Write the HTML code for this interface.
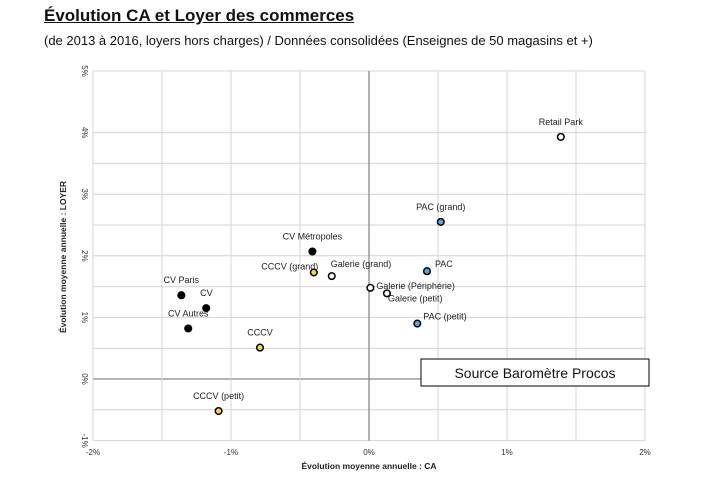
<!DOCTYPE html>
<html><head><meta charset="utf-8"><style>
body{margin:0;background:#fff;width:707px;height:488px;overflow:hidden;font-family:"Liberation Sans",sans-serif}
#title{position:absolute;left:44px;top:6px;font-size:17px;font-weight:bold;text-decoration:underline;color:#111}
#sub{position:absolute;left:44px;top:33px;font-size:13px;color:#111}
svg{position:absolute;left:0;top:0}
</style></head><body>
<div id="title">Évolution CA et Loyer des commerces</div>
<div id="sub">(de 2013 à 2016, loyers hors charges) / Données consolidées (Enseignes de 50 magasins et +)</div>
<svg id="c" width="707" height="488"></svg>
<script>
const names=["CV Métropoles","CCCV (grand)","Galerie (grand)","CV Paris","CV","CV Autres","CCCV","CCCV (petit)","Galerie (Périphérie)","Galerie (petit)","Retail Park","PAC (grand)","PAC","PAC (petit)"];
const caValues=[-0.41,-0.40,-0.27,-1.36,-1.18,-1.31,-0.79,-1.09,0.01,0.13,1.39,0.52,0.42,0.35];
const loyerValues=[2.07,1.73,1.67,1.36,1.15,0.82,0.51,-0.52,1.48,1.39,3.93,2.55,1.75,0.90];
const groups=["cv","cccv","galerie","cv","cv","cv","cccv","cccv","galerie","galerie","galerie","pac","pac","pac"];
const xTicks=[-2,-1,0,1,2];
const yTicks=[-1,0,1,2,3,4,5];
const yGrid=[-0.5,0.5,1.5,2.5,3.5];
const xGrid=[-1.5,-0.5,0.5,1.5];
// label placement (style): [dx, dy, anchor]
const labelPos=[[0,-12,"middle"],[-24,-3,"middle"],[-1,-9,"start"],[0,-12,"middle"],[-6,-12,"start"],[0,-12,"middle"],[0,-12,"middle"],[0,-12,"middle"],[6,1,"start"],[1,8,"start"],[0,-12,"middle"],[0,-12,"middle"],[8,-4,"start"],[6,-4,"start"]];
const fills={cv:"#000",cccv:"#f6d54c",galerie:"#fff",pac:"#5ba7e0"};
const X=v=>369+v*138, Y=v=>379-v*61.6;
const svg=document.getElementById('c');const NS="http://www.w3.org/2000/svg";
function mk(t,a,txt){const e=document.createElementNS(NS,t);for(const k in a)e.setAttribute(k,a[k]);if(txt!=null)e.textContent=txt;svg.appendChild(e);return e;}
yGrid.concat(yTicks).forEach(v=>{const l=mk('line',{x1:X(-2),x2:X(2),y1:Y(v),y2:Y(v),stroke:v===0?'#888':'#d4d4d4','stroke-width':v===0?1.3:1});

});
xGrid.concat(xTicks).forEach(v=>{const l=mk('line',{x1:X(v),x2:X(v),y1:Y(5),y2:Y(-1),stroke:v===0?'#888':'#d4d4d4','stroke-width':v===0?1.3:1});

});
xTicks.forEach(v=>{const t=mk('text',{x:X(v),y:455,'font-size':8,'text-anchor':'middle',fill:'#333'},v+'%');

});
yTicks.forEach(v=>{const t=mk('text',{x:0,y:0,'font-size':8,'text-anchor':'middle',fill:'#333',transform:`translate(82,${Y(v)}) rotate(90)`},v+'%');

});
let t=mk('text',{x:369,y:469,'font-size':8.5,'font-weight':'bold','text-anchor':'middle',fill:'#222'},'Évolution moyenne annuelle : CA');


t=mk('text',{x:0,y:0,'font-size':8.5,'font-weight':'bold','text-anchor':'middle',fill:'#222',transform:'translate(66,257) rotate(-90)'},'Évolution moyenne annuelle : LOYER');


names.forEach((n,i)=>{const cx=X(caValues[i]),cy=Y(loyerValues[i]);
const c=mk('circle',{cx:cx,cy:cy,r:3.3,fill:fills[groups[i]],stroke:'#000','stroke-width':1.5});


const p=labelPos[i];
const l=mk('text',{x:cx+p[0],y:cy+p[1],'font-size':9,'text-anchor':p[2],fill:'#222'},n);

});
const r=mk('rect',{x:421,y:359,width:228,height:27,fill:'#fff',stroke:'#000','stroke-width':1});


t=mk('text',{x:535,y:378,'font-size':14,'text-anchor':'middle',fill:'#111'},'Source Baromètre Procos');


</script>
</body></html>
